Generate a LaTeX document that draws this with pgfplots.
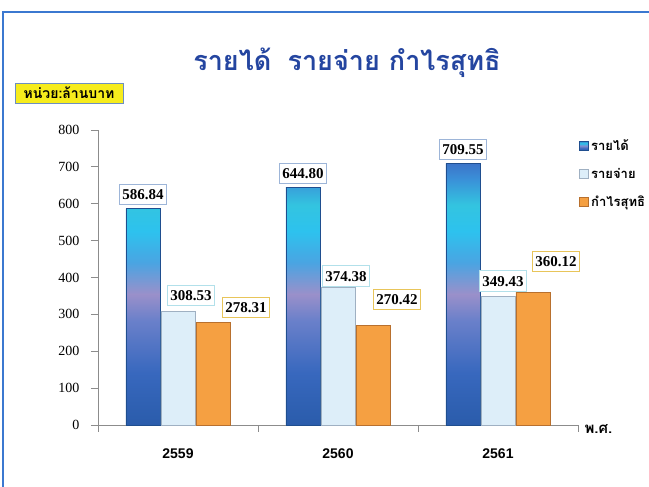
\documentclass[border=0pt]{standalone}
\usepackage{pgfplots}
\pgfplotsset{compat=1.18}
\usepackage{pgfplotstable}
\usepackage{fontspec}
\setmainfont{Liberation Serif}
\newfontfamily\thaifont[Script=Thai]{Loma}
\newfontfamily\arialf{Liberation Sans}

\definecolor{frameblue}{HTML}{3B78D0}
\definecolor{titleblue}{HTML}{2445A0}
\definecolor{unityellow}{HTML}{F6EC1C}
\definecolor{unitborder}{HTML}{6D8FC0}
\definecolor{axisgray}{HTML}{8C8C8C}
\definecolor{bb0}{HTML}{2A5CAB}
\definecolor{bb1}{HTML}{3868BE}
\definecolor{bb2}{HTML}{6A80CA}
\definecolor{bb3}{HTML}{9A90CA}
\definecolor{bb4}{HTML}{4AA4E2}
\definecolor{bb5}{HTML}{2DC2EE}
\definecolor{bb6}{HTML}{33C4E0}
\definecolor{bb7}{HTML}{3A90D8}
\definecolor{bb8}{HTML}{3C74C8}
\definecolor{bluedge}{HTML}{1F4E8F}
\definecolor{lightfill}{HTML}{DDEEF9}
\definecolor{lightedge}{HTML}{9FB0C2}
\definecolor{orangefill}{HTML}{F5A042}
\definecolor{orangeedge}{HTML}{B8702E}
\definecolor{labblue}{HTML}{9DB5D8}
\definecolor{labcyan}{HTML}{B2E0EA}
\definecolor{labgold}{HTML}{E8C55A}

\pgfdeclareverticalshading{bluebar}{100bp}{color(0bp)=(bb0); color(25bp)=(bb0); color(35bp)=(bb1); color(45bp)=(bb2); color(50bp)=(bb3); color(56bp)=(bb4); color(62bp)=(bb5); color(67bp)=(bb6); color(72bp)=(bb7); color(75bp)=(bb8); color(100bp)=(bb8)}

\pgfplotstableread{
x y lab dx dy
0 586.84 586.84 0 14
1 644.80 644.80 0 14
2 709.55 709.55 0 14
}\revenue
\pgfplotstableread{
x y lab dx dy
0 308.53 308.53 13 16
1 374.38 374.38 8 11
2 349.43 349.43 5 15
}\expense
\pgfplotstableread{
x y lab dx dy
0 278.31 278.31 33 15
1 270.42 270.42 24 26
2 360.12 360.12 23 31
}\profit

\begin{document}
\begin{tikzpicture}
\useasboundingbox (0pt,0pt) rectangle (649pt,487pt);
\fill[white] (0pt,0pt) rectangle (649pt,487pt);
\draw[frameblue, line width=2pt] (3pt,-5pt) -- (3pt,475pt) -- (660pt,475pt);

\node[font=\thaifont\bfseries\fontsize{27}{30}\selectfont, text=titleblue] at (347pt,424pt) {รายได้\hspace{0.6em}รายจ่าย กำไรสุทธิ};

\node[fill=unityellow, draw=unitborder, line width=0.8pt, minimum width=108pt, minimum height=20pt, inner sep=0pt, font=\thaifont\bfseries\fontsize{14}{16}\selectfont] at (69pt,394pt) {หน่วย:ล้านบาท};

\begin{axis}[
  at={(98pt,62pt)}, anchor=south west,
  scale only axis, width=480pt, height=295pt,
  xmin=-0.5, xmax=2.5, ymin=0, ymax=800,
  ybar, bar width=34pt,
  clip=false,
  axis x line*=bottom, axis y line*=left,
  axis line style={axisgray, line width=0.8pt},
  tick align=outside, major tick length=7pt,
  tick style={axisgray, line width=0.8pt},
  xtick={-0.5,0.5,1.5,2.5}, xticklabels={},
  extra x ticks={0,1,2},
  extra x tick labels={2559,2560,2561},
  extra x tick style={major tick length=0pt, tick style={draw=none},
    xticklabel style={font=\arialf\bfseries\fontsize{14}{16}\selectfont, yshift=-20pt}},
  ytick={0,100,...,800},
  yticklabel style={font=\fontsize{14}{16}\selectfont, xshift=-8pt},
  /pgf/number format/assume math mode=true,
  xlabel={พ.ศ.},
  xlabel style={font=\thaifont\bfseries\fontsize{15}{17}\selectfont, at={(rel axis cs:1,0)}, anchor=west, xshift=3pt, yshift=-4pt},
  point meta=explicit symbolic,
  visualization depends on={\thisrow{dx}\as\dx},
  visualization depends on={\thisrow{dy}\as\dy},
  nodes near coords,
  every node near coord/.append style={anchor=center, xshift=\dx pt, yshift=\dy pt,
     fill=white, line width=0.8pt, font=\bfseries\fontsize{15}{17}\selectfont,
     text height=10.5pt, text depth=0pt, inner xsep=2.5pt, inner ysep=5pt},
  legend style={at={(rel axis cs:1,0.975)}, anchor=north west, xshift=1pt, draw=none, fill=none,
     font=\thaifont\bfseries\fontsize{13}{15}\selectfont, row sep=12pt, inner sep=0pt,
     nodes={inner xsep=2.5pt}},
  legend cell align=left,
  legend image code/.code={\draw[#1, line width=0.5pt] (0pt,-4.5pt) rectangle (9pt,4.5pt);},
]
\addplot[bar shift=-35pt, shading=bluebar, draw=bluedge, line width=0.6pt,
  every node near coord/.append style={draw=labblue}]
  table[x=x, y=y, meta=lab] {\revenue};
\addlegendentry{รายได้}
\addplot[bar shift=0pt, fill=lightfill, draw=lightedge, line width=0.6pt,
  every node near coord/.append style={draw=labcyan}]
  table[x=x, y=y, meta=lab] {\expense};
\addlegendentry{รายจ่าย}
\addplot[bar shift=35pt, fill=orangefill, draw=orangeedge, line width=0.6pt,
  every node near coord/.append style={draw=labgold}]
  table[x=x, y=y, meta=lab] {\profit};
\addlegendentry{กำไรสุทธิ}
\end{axis}
\end{tikzpicture}
\end{document}
